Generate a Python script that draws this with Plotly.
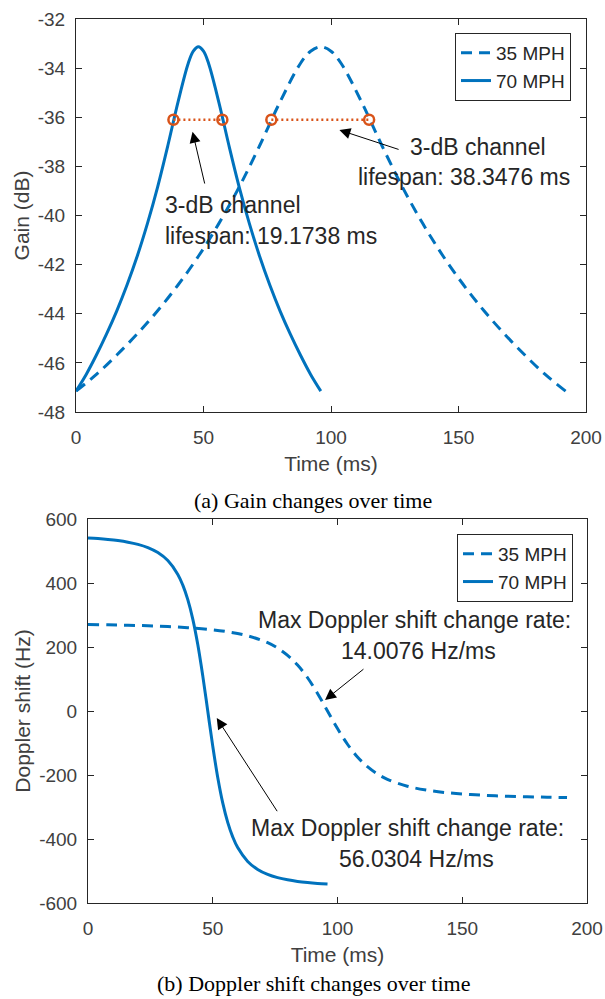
import plotly.graph_objects as go

# ---------------- data ----------------
t70_gain = [0, 4, 8, 12, 16, 20, 24, 28, 32, 36, 40, 44, 46, 48, 50, 52, 56, 60, 64, 68, 72, 76, 80, 84, 88, 92, 96]
gain_70 = [-47.15, -46.47, -45.68, -44.82, -43.88, -42.83, -41.66, -40.33, -38.84, -37.16, -35.38, -33.81, -33.31,
           -33.13, -33.31, -33.81, -35.38, -37.16, -38.84, -40.33, -41.66, -42.83, -43.88, -44.82, -45.68, -46.47, -47.15]
t35_gain = [0, 8, 16, 24, 32, 40, 48, 56, 64, 72, 80, 88, 92, 96, 100, 104, 112, 120, 128, 136, 144, 152, 160, 168, 176, 184, 192]
gain_35 = [-47.15, -46.47, -45.68, -44.82, -43.88, -42.83, -41.66, -40.33, -38.84, -37.16, -35.38, -33.81, -33.31,
           -33.13, -33.31, -33.81, -35.38, -37.16, -38.84, -40.33, -41.66, -42.83, -43.88, -44.82, -45.68, -46.47, -47.15]

lifespan70_t = [38.2, 57.4]
lifespan35_t = [76.6, 114.95]
lifespan_gain = [-36.1, -36.1]

t70_dop = [0, 4, 8, 12, 16, 20, 24, 28, 32, 36, 38, 40, 42, 44, 46, 48, 50, 52, 54, 56, 58, 60, 64, 68, 72, 76, 80, 84, 88, 92, 96]
dop_70 = [540.7, 538.7, 536.0, 532.5, 527.6, 520.8, 510.7, 495.2, 470.1, 426.8, 393.2, 348.0, 287.2, 207.7, 109.8, 0.0,
          -109.8, -207.7, -287.2, -348.0, -393.2, -426.8, -470.1, -495.2, -510.7, -520.8, -527.6, -532.5, -536.0, -538.7, -540.7]
t35_dop = [0, 8, 16, 24, 32, 40, 48, 56, 64, 72, 76, 80, 84, 88, 92, 96, 100, 104, 108, 112, 116, 120, 128, 136, 144, 152, 160, 168, 176, 184, 192]
dop_35 = [270.4, 269.4, 268.0, 266.3, 263.8, 260.4, 255.4, 247.6, 235.1, 213.4, 196.6, 174.0, 143.6, 103.9, 54.9, 0.0,
          -54.9, -103.9, -143.6, -174.0, -196.6, -213.4, -235.1, -247.6, -255.4, -260.4, -263.8, -266.3, -268.0, -269.4, -270.4]

x_ticks = [0, 50, 100, 150, 200]
x_tick_labels = ["0", "50", "100", "150", "200"]
gain_ticks = [-48, -46, -44, -42, -40, -38, -36, -34, -32]
gain_tick_labels = ["-48", "-46", "-44", "-42", "-40", "-38", "-36", "-34", "-32"]
dop_ticks = [-600, -400, -200, 0, 200, 400, 600]
dop_tick_labels = ["-600", "-400", "-200", "0", "200", "400", "600"]

# ---------------- styles / geometry ----------------
BLUE = "#0072BD"
ORANGE = "#D95319"
AXC = "#262626"
TICKC = "#404040"
SANS = "Liberation Sans, Arial, sans-serif"
SERIF = "Liberation Serif, Times New Roman, serif"
W, H = 605, 999


def px(x):
    return x / W


def py(y):
    return 1 - y / H


fig = go.Figure()

# top: gain
fig.add_trace(go.Scatter(x=t35_gain, y=gain_35, mode="lines", name="35 MPH", legend="legend",
                         line=dict(color=BLUE, width=3, dash="11px,7px", shape="spline"), xaxis="x", yaxis="y"))
fig.add_trace(go.Scatter(x=t70_gain, y=gain_70, mode="lines", name="70 MPH", legend="legend",
                         line=dict(color=BLUE, width=3, shape="spline"), xaxis="x", yaxis="y"))
for tt in (lifespan70_t, lifespan35_t):
    fig.add_trace(go.Scatter(x=tt, y=lifespan_gain, mode="lines+markers", showlegend=False,
                             line=dict(color=ORANGE, width=2.5, dash="2px,3px"),
                             marker=dict(symbol="circle-open", size=10, color=ORANGE, line=dict(width=2.5, color=ORANGE)),
                             xaxis="x", yaxis="y"))

# bottom: doppler
fig.add_trace(go.Scatter(x=t35_dop, y=dop_35, mode="lines", name="35 MPH", legend="legend2",
                         line=dict(color=BLUE, width=3, dash="11px,7px", shape="spline"), xaxis="x2", yaxis="y2"))
fig.add_trace(go.Scatter(x=t70_dop, y=dop_70, mode="lines", name="70 MPH", legend="legend2",
                         line=dict(color=BLUE, width=3, shape="spline"), xaxis="x2", yaxis="y2"))


def xax(domain, anchor):
    return dict(domain=domain, anchor=anchor, range=[0, 200], tickvals=x_ticks, ticktext=x_tick_labels,
                ticks="inside", ticklen=6, tickcolor=AXC, showline=True, linecolor=AXC, linewidth=1,
                mirror="ticks", showgrid=False, zeroline=False,
                tickfont=dict(family=SANS, size=19, color=TICKC), ticklabelstandoff=8,
                title=dict(text="Time (ms)", font=dict(family=SANS, size=21, color=TICKC), standoff=9),
                automargin=False, fixedrange=True)


def yax(domain, anchor, rng, ticks, labels, title):
    return dict(domain=domain, anchor=anchor, range=rng, tickvals=ticks, ticktext=labels,
                ticks="inside", ticklen=6, tickcolor=AXC, showline=True, linecolor=AXC, linewidth=1,
                mirror="ticks", showgrid=False, zeroline=False,
                tickfont=dict(family=SANS, size=19, color=TICKC), ticklabelstandoff=6,
                title=dict(text=title, font=dict(family=SANS, size=21, color=TICKC), standoff=2),
                automargin=False, fixedrange=True)


legend_common = dict(bgcolor="white", bordercolor=AXC, borderwidth=1, xanchor="right", yanchor="top",
                     font=dict(family=SANS, size=19, color=AXC), tracegroupgap=0, itemwidth=30)

fig.update_layout(
    width=W, height=H, margin=dict(l=0, r=0, t=0, b=0),
    paper_bgcolor="white", plot_bgcolor="white",
    xaxis=xax([px(76), px(586)], "y"),
    yaxis=yax([py(412), py(19)], "x", [-48, -32], gain_ticks, gain_tick_labels, "Gain (dB)"),
    xaxis2=xax([px(88), px(587)], "y2"),
    yaxis2=yax([py(903), py(519)], "x2", [-600, 600], dop_ticks, dop_tick_labels, "Doppler shift (Hz)"),
    legend=dict(x=px(571), y=py(33), **legend_common),
    legend2=dict(x=px(573), y=py(534), **legend_common),
)

ann = []
TXT = dict(family=SANS, size=23, color=AXC)


def arrow(xr, yr, head, tail):
    return dict(xref=xr, yref=yr, axref=xr, ayref=yr, x=head[0], y=head[1], ax=tail[0], ay=tail[1],
                text="", showarrow=True, arrowhead=2, arrowsize=2.2, arrowwidth=1, arrowcolor="black", standoff=0)


def label(xr, yr, x, y, text, xanchor):
    return dict(xref=xr, yref=yr, x=x, y=y, text=text, showarrow=False, xanchor=xanchor, yanchor="middle", font=TXT)


ann += [
    arrow("x", "y", (45.7, -36.59), (50.6, -38.76)),
    arrow("x", "y", (103.3, -36.52), (127.1, -37.33)),
    label("x", "y", 34.1, -39.57, "3-dB channel", "left"),
    label("x", "y", 34.1, -40.83, "lifespan: 19.1738 ms", "left"),
    label("x", "y", 130.2, -37.21, "3-dB channel", "left"),
    label("x", "y", 109.8, -38.43, "lifespan: 38.3476 ms", "left"),
    arrow("x2", "y2", (51.6, -21.9), (76.2, -317.8)),
    arrow("x2", "y2", (95.0, 34.4), (111.0, 134.4)),
    label("x2", "y2", 130.7, 284.4, "Max Doppler shift change rate:", "center"),
    label("x2", "y2", 132.3, 187.5, "14.0076 Hz/ms", "center"),
    label("x2", "y2", 127.9, -365.6, "Max Doppler shift change rate:", "center"),
    label("x2", "y2", 131.7, -462.5, "56.0304 Hz/ms", "center"),
    dict(xref="paper", yref="paper", x=px(313), y=py(500), text="(a) Gain changes over time", showarrow=False,
         xanchor="center", yanchor="middle", font=dict(family=SERIF, size=22, color="black")),
    dict(xref="paper", yref="paper", x=px(313), y=py(983), text="(b) Doppler shift changes over time", showarrow=False,
         xanchor="center", yanchor="middle", font=dict(family=SERIF, size=22, color="black")),
]
fig.update_layout(annotations=ann)

fig.write_html("out.html", config={"displayModeBar": False},
               post_script="document.body.style.margin='0px';document.body.style.overflow='hidden';")
